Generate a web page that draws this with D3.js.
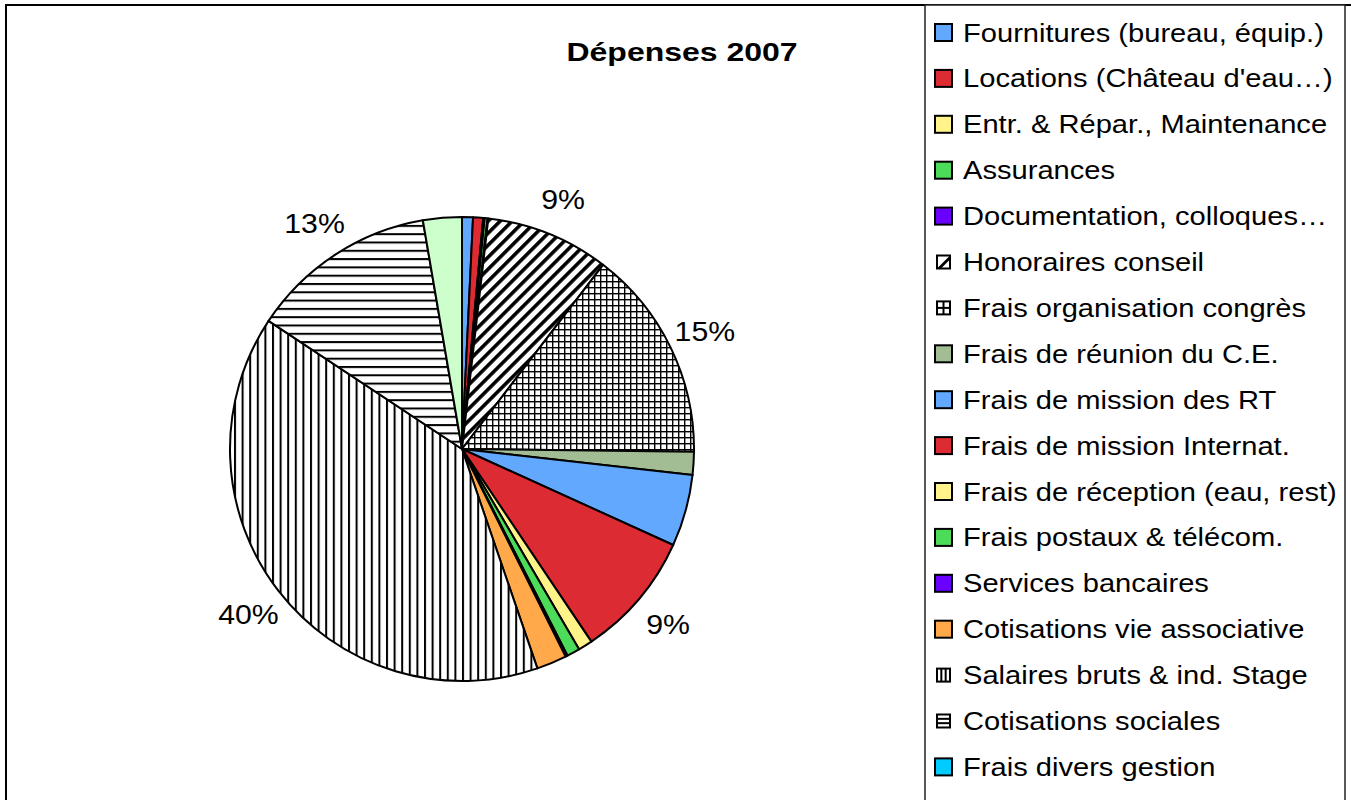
<!DOCTYPE html>
<html>
<head>
<meta charset="utf-8">
<script src="https://cdn.jsdelivr.net/npm/d3@7"></script>
<style>
  html, body { margin: 0; padding: 0; background: #fff; }
  svg { display: block; }
  text { font-family: "Liberation Sans", Arial, sans-serif; fill: #000; }
</style>
</head>
<body>
<div id="chart"></div>
<script>
// Dépenses 2007, valeurs en %
const categories = [
  'Fournitures (bureau, équip.)',
  'Locations (Château d\'eau…)',
  'Entr. & Répar., Maintenance',
  'Assurances',
  'Documentation, colloques…',
  'Honoraires conseil',
  'Frais organisation congrès',
  'Frais de réunion du C.E.',
  'Frais de mission des RT',
  'Frais de mission Internat.',
  'Frais de réception (eau, rest)',
  'Frais postaux & télécom.',
  'Services bancaires',
  'Cotisations vie associative',
  'Salaires bruts & ind. Stage',
  'Cotisations sociales',
  'Frais divers gestion'
];
const values = [0.76, 0.7, 0.1, 0.2, 0.05, 8.6, 14.8, 1.6, 5.0, 8.8, 1.0, 0.9, 0.15, 2.1, 39.6, 13.0, 2.7];
const fills = ['#62a8ff', '#dd2b33', '#fff38a', '#4ddb5a', '#6a00ff', 'url(#diag)', 'url(#grid)', '#a2bd94',
  '#62a8ff', '#dd2b33', '#fff38a', '#4ddb5a', '#6a00ff', '#ffa94a', 'url(#vert)', 'url(#horiz)', '#ccffcc'];
const legendFills = fills.slice(0, 16).concat(['#00ccff']);
const icons = [null, null, null, null, null, 'diag', 'grid', null, null, null, null, null, null, null, 'vert', 'horiz', null];
const title = 'Dépenses 2007';

const width = 1351, height = 800;
const cx = 462, cy = 449, radius = 232;

const svg = d3.select('#chart').append('svg')
  .attr('width', width)
  .attr('height', height);

// hachures
const defs = svg.append('defs');
const diag = defs.append('pattern').attr('id', 'diag')
  .attr('patternUnits', 'userSpaceOnUse').attr('width', 8.5).attr('height', 8.5)
  .attr('patternTransform', 'rotate(45)');
diag.append('rect').attr('width', 8.5).attr('height', 8.5).attr('fill', '#fff');
diag.append('rect').attr('width', 3.6).attr('height', 8.5).attr('fill', '#000');

const grid = defs.append('pattern').attr('id', 'grid')
  .attr('patternUnits', 'userSpaceOnUse').attr('width', 6).attr('height', 6);
grid.append('rect').attr('width', 6).attr('height', 6).attr('fill', '#fff');
grid.append('rect').attr('width', 1.4).attr('height', 6).attr('fill', '#000');
grid.append('rect').attr('width', 6).attr('height', 1.4).attr('fill', '#000');

const vert = defs.append('pattern').attr('id', 'vert')
  .attr('patternUnits', 'userSpaceOnUse').attr('width', 7.6).attr('height', 8);
vert.append('rect').attr('width', 7.6).attr('height', 8).attr('fill', '#fff');
vert.append('rect').attr('width', 2).attr('height', 8).attr('fill', '#000');

const horiz = defs.append('pattern').attr('id', 'horiz')
  .attr('patternUnits', 'userSpaceOnUse').attr('width', 8).attr('height', 8.3);
horiz.append('rect').attr('width', 8).attr('height', 8.3).attr('fill', '#fff');
horiz.append('rect').attr('width', 8).attr('height', 2).attr('fill', '#000');

// cadres
svg.append('rect')
  .attr('x', 6).attr('y', 5).attr('width', width + 20).attr('height', height + 20)
  .attr('fill', 'none').attr('stroke', '#000').attr('stroke-width', 2);

// titre
svg.append('text')
  .attr('transform', 'translate(682,61) scale(1.23,1)')
  .attr('text-anchor', 'middle')
  .style('font-size', '26px')
  .style('font-weight', 'bold')
  .text(title);

// camembert
const total = d3.sum(values);
const pie = d3.pie().sort(null).value(d => d);
const arcs = pie(values);
const arc = d3.arc().innerRadius(0).outerRadius(radius);
const labelArc = d3.arc().innerRadius(270).outerRadius(270);

const g = svg.append('g').attr('transform', `translate(${cx},${cy})`);

g.selectAll('path.slice')
  .data(arcs)
  .enter().append('path')
    .attr('class', 'slice')
    .attr('d', arc)
    .attr('fill', (d, i) => fills[i])
    .attr('stroke', '#000')
    .attr('stroke-width', 2)
    .attr('stroke-linejoin', 'round');

g.selectAll('text.pct')
  .data(arcs.filter(d => d.value / total >= 0.08))
  .enter().append('text')
    .attr('class', 'pct')
    .attr('transform', d => {
      const c = labelArc.centroid(d);
      return `translate(${c[0]},${c[1] + 10}) scale(1.08,1)`;
    })
    .attr('text-anchor', 'middle')
    .style('font-size', '28px')
    .text(d => Math.round(d.value / total * 100) + '%');

// légende
const legX = 925, legY = 5, rowH = 45.9;
svg.append('rect')
  .attr('x', legX).attr('y', legY).attr('width', 420).attr('height', height + 20)
  .attr('fill', '#fff').attr('stroke', '#222').attr('stroke-width', 1.5);

const rows = svg.selectAll('g.leg')
  .data(categories)
  .enter().append('g')
    .attr('class', 'leg')
    .attr('transform', (d, i) => `translate(0,${41.5 + i * rowH})`);

rows.filter((d, i) => !icons[i]).append('rect')
  .attr('x', 935).attr('y', -17.5)
  .attr('width', 17).attr('height', 17)
  .attr('fill', d => legendFills[categories.indexOf(d)])
  .attr('stroke', '#000').attr('stroke-width', 2);

rows.filter((d, i) => icons[i]).each(function(d) {
  const i = categories.indexOf(d);
  const s = d3.select(this);
  const x0 = 937, y0 = -15.5, w = 13;
  s.append('rect').attr('x', x0).attr('y', y0).attr('width', w).attr('height', w)
    .attr('fill', '#fff').attr('stroke', '#000').attr('stroke-width', 2);
  const line = (x1, y1, x2, y2) => s.append('line')
    .attr('x1', x1).attr('y1', y1).attr('x2', x2).attr('y2', y2)
    .attr('stroke', '#000').attr('stroke-width', 2);
  if (icons[i] === 'diag') {
    s.append('path')
      .attr('d', `M${x0},${y0 + w}L${x0 + w},${y0}L${x0 + w},${y0 + 4}L${x0 + 4},${y0 + w}Z`)
      .attr('fill', '#000');
  } else if (icons[i] === 'grid') {
    line(x0 + w / 2, y0, x0 + w / 2, y0 + w);
    line(x0, y0 + w / 2, x0 + w, y0 + w / 2);
  } else if (icons[i] === 'vert') {
    line(x0 + w / 3, y0, x0 + w / 3, y0 + w);
    line(x0 + 2 * w / 3, y0, x0 + 2 * w / 3, y0 + w);
  } else if (icons[i] === 'horiz') {
    line(x0, y0 + w / 3, x0 + w, y0 + w / 3);
    line(x0, y0 + 2 * w / 3, x0 + w, y0 + 2 * w / 3);
  }
});

rows.append('text')
  .attr('transform', 'translate(963,0) scale(1.12,1)')
  .style('font-size', '26px')
  .text(d => d);
</script>
</body>
</html>
